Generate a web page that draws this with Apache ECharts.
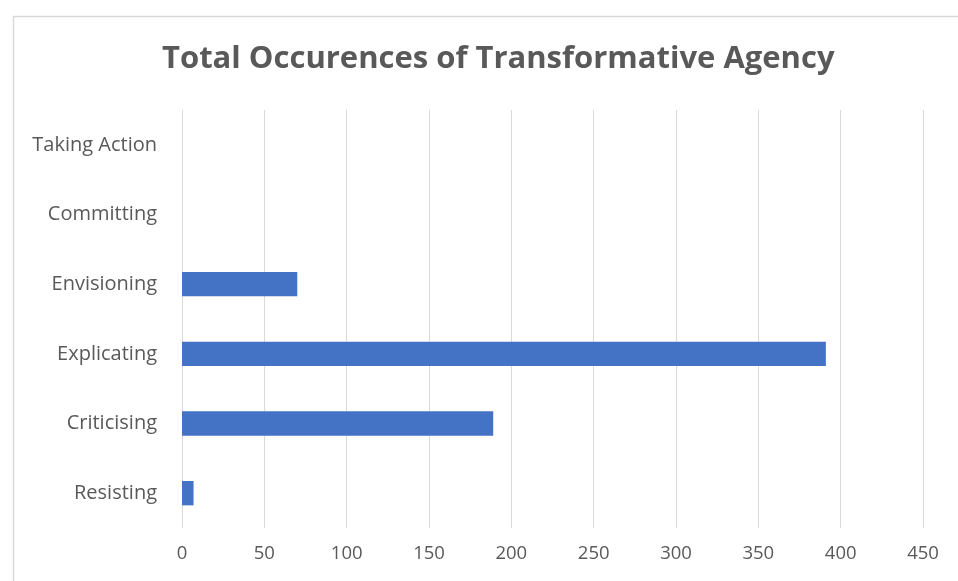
<!DOCTYPE html>
<html>
<head>
<meta charset="utf-8">
<script src="https://cdn.jsdelivr.net/npm/echarts@6/dist/echarts.min.js"></script>
<style>html,body{margin:0;padding:0;background:#fff;}#c{width:958px;height:581px;}</style>
</head>
<body>
<div id="c"></div>
<script>
const titleText = "Total Occurences of Transformative Agency";
const categories = ["Resisting", "Criticising", "Explicating", "Envisioning", "Committing", "Taking Action"];
const values = [7, 189, 391, 70, 0, 0];
const xTicks = [0, 50, 100, 150, 200, 250, 300, 350, 400, 450];

const chart = echarts.init(document.getElementById('c'), null, {renderer: 'canvas'});
const font = "'Open Sans', sans-serif";
chart.setOption({
  animation: false,
  backgroundColor: '#ffffff',
  graphic: [{
    type: 'rect', left: 11, top: 14, shape: {width: 980, height: 600},
    style: {fill: 'none', stroke: '#d9d9d9', lineWidth: 1.5}, z: -1
  }],
  title: {
    text: titleText, left: 157, top: 39,
    textStyle: {fontFamily: font, fontWeight: 'bold', fontSize: 31, color: '#595959'}
  },
  grid: {left: 182, right: 35, top: 110, bottom: 53, containLabel: false},
  xAxis: {
    type: 'value', min: xTicks[0], max: xTicks[xTicks.length - 1], interval: 50,
    axisLine: {show: false}, axisTick: {show: false},
    splitLine: {show: true, lineStyle: {color: '#d9d9d9', width: 1}},
    axisLabel: {fontFamily: font, fontSize: 18.5, color: '#595959', margin: 16}
  },
  yAxis: {
    type: 'category', data: categories,
    axisLine: {show: false}, axisTick: {show: false},
    axisLabel: {fontFamily: font, fontSize: 20, color: '#595959', margin: 25}
  },
  series: [{
    type: 'bar', data: values, barWidth: '35%',
    itemStyle: {color: '#4472c4'}
  }]
});
</script>
</body>
</html>
